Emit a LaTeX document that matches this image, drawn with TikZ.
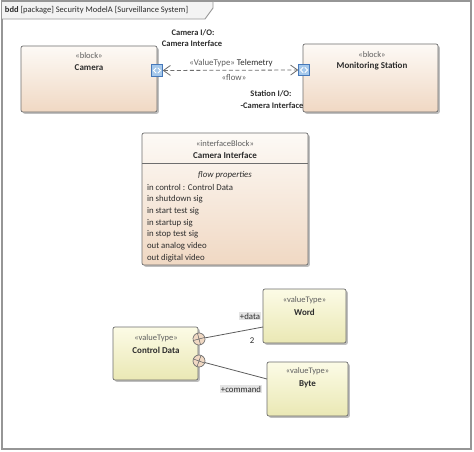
\documentclass[tikz,border=0pt]{standalone}
\usepackage{fontspec}
\setmainfont{Carlito}
\usetikzlibrary{shadows,arrows.meta}
\definecolor{peach}{RGB}{240,216,195}
\definecolor{peachtop}{RGB}{253,250,246}
\definecolor{vtop}{RGB}{252,251,230}
\definecolor{vbot}{RGB}{234,232,180}
\definecolor{edgec}{RGB}{110,110,110}
\definecolor{txt}{RGB}{45,45,45}
\definecolor{stereoc}{RGB}{95,95,95}
\definecolor{portfill}{RGB}{165,200,235}
\definecolor{portedge}{RGB}{70,120,185}
\definecolor{framegray}{RGB}{150,150,150}
\definecolor{tabfill}{RGB}{243,243,243}
\definecolor{lblbg}{RGB}{228,228,228}
\begin{document}
\begin{tikzpicture}[x=1pt,y=-1pt,
  every node/.style={inner sep=0pt, outer sep=0pt, text=txt},
  shadowed/.style={drop shadow={shadow xshift=1.8pt,shadow yshift=-1.8pt,fill=black,opacity=0.25}},
  blockbox/.style={shadowed, draw=edgec, line width=0.7pt, rounded corners=2pt, top color=peachtop, bottom color=peach, anchor=north west},
  valbox/.style={shadowed, draw=edgec, line width=0.7pt, rounded corners=2pt, top color=vtop, bottom color=vbot, anchor=north west},
  ster/.style={font=\fontsize{8.5}{10}\selectfont, text=stereoc},
  ttl/.style={font=\fontsize{9}{11}\selectfont\bfseries},
  body/.style={font=\fontsize{8.8}{11}\selectfont},
  lbl/.style={font=\fontsize{8.5}{10}\selectfont\bfseries},
  portbox/.style={draw=portedge, fill=portfill, line width=0.6pt, minimum size=11.5pt},
  conn/.style={draw=edgec!85!black, line width=0.8pt},
  compcirc/.style={circle, draw=edgec, fill=peach, line width=0.7pt, minimum size=12pt},
  tagbg/.style={fill=lblbg, inner sep=0.6pt, body},
]
\useasboundingbox (0,0) rectangle (474,452);
\fill[white] (0,0) rectangle (474,452);
% frame
\draw[framegray, line width=2pt] (1.5,1.5) rectangle (470.5,449);
\draw[framegray, fill=tabfill, line width=0.9pt] (1.5,1.5) -- (213,1.5) -- (213,8) -- (205,19) -- (1.5,19) -- cycle;
\node[anchor=west, font=\fontsize{8.5}{10}\selectfont] (hdr) at (5,10) {\textbf{bdd} [package] Security ModelA [Surveillance System]};

% Camera block
\node[blockbox, minimum width=136pt, minimum height=66pt] (camera) at (21,46) {};
\node[ster] (camS) at (89,56) {«block»};
\node[ttl] (camT) at (89,68) {Camera};
% Monitoring station
\node[blockbox, minimum width=135pt, minimum height=68pt] (station) at (303,44) {};
\node[ster] (staS) at (372,55) {«block»};
\node[ttl] (staT) at (372,66) {Monitoring Station};

% ports
\node[portbox] (p1) at (157,70.5) {};
\node[portbox] (p2) at (304,70) {};
\foreach \p in {p1,p2}{
  \draw[white, line width=0.9pt] (\p.center) ++(-0.8,-2.6) -- ++(-2.6,2.6) -- ++(2.6,2.6);
  \draw[white, line width=0.9pt] (\p.center) ++(0.8,-2.6) -- ++(2.6,2.6) -- ++(-2.6,2.6);
}
\draw[edgec, line width=0.8pt, dash pattern=on 4pt off 2.5pt, {Straight Barb[length=7pt,width=10pt]}-{Straight Barb[length=7pt,width=10pt]}] (p1) -- (p2);
\node[body] (tele) at (231,63) {\textcolor{stereoc}{«ValueType»} Telemetry};
\node[body, text=stereoc] (flow) at (234,78) {«flow»};
\node[lbl] (camio1) at (193,33) {Camera I/O:};
\node[lbl] (camio2) at (192,44) {Camera Interface};
\node[lbl] (staio1) at (271,94) {Station I/O:};
\node[lbl] (staio2) at (272,106) {-Camera Interface};

% Interface block
\node[blockbox, minimum width=166pt, minimum height=132pt] (iface) at (142,133) {};
\draw[edgec, line width=0.7pt] (142,163.5) -- (308,163.5);
\node[ster] (ifS) at (225,144) {«interfaceBlock»};
\node[ttl] (ifT) at (225,155.5) {Camera Interface};
\node[body, font=\fontsize{8.8}{11}\selectfont\itshape] (fp) at (225,175.5) {flow properties};
\foreach \t [count=\i] in {in control : Control Data, in shutdown sig, in start test sig, in startup sig, in stop test sig, out analog video, out digital video}{
  \node[body, anchor=west] (fl\i) at (147,{187.5+(\i-1)*11.75}) {\t};
}

% value types
\node[valbox, minimum width=85pt, minimum height=53pt] (ctrl) at (113,327) {};
\node[ster] (ctrlS) at (156,338) {«valueType»};
\node[ttl] (ctrlT) at (156,350) {Control Data};
\node[valbox, minimum width=83pt, minimum height=54pt] (word) at (263,289) {};
\node[ster] (wordS) at (304.5,300.5) {«valueType»};
\node[ttl] (wordT) at (304.5,312.5) {Word};
\node[valbox, minimum width=81pt, minimum height=54pt] (byte) at (267,362) {};
\node[ster] (byteS) at (307.5,371) {«valueType»};
\node[ttl] (byteT) at (307.5,384.5) {Byte};

% composition circles
\node[compcirc, rotate=15] (c1) at (199,339) {};
\node[compcirc, rotate=-20] (c2) at (199,361) {};
\foreach \c in {c1,c2}{
  \draw[edgec, line width=0.6pt] (\c.north) -- (\c.south) (\c.west) -- (\c.east);
}
\coordinate (wa) at ([yshift=-11pt]word.west);
\coordinate (ba) at ([yshift=10pt]byte.west);
\draw[conn] (c1) -- (wa);
\draw[conn] (c2) -- (ba);
\node[tagbg] (ldata) at (250,316) {+data};
\node[body] (lmult) at (252,341) {2};
\node[tagbg] (lcmd) at (241,389) {+command};
\end{tikzpicture}
\end{document}
